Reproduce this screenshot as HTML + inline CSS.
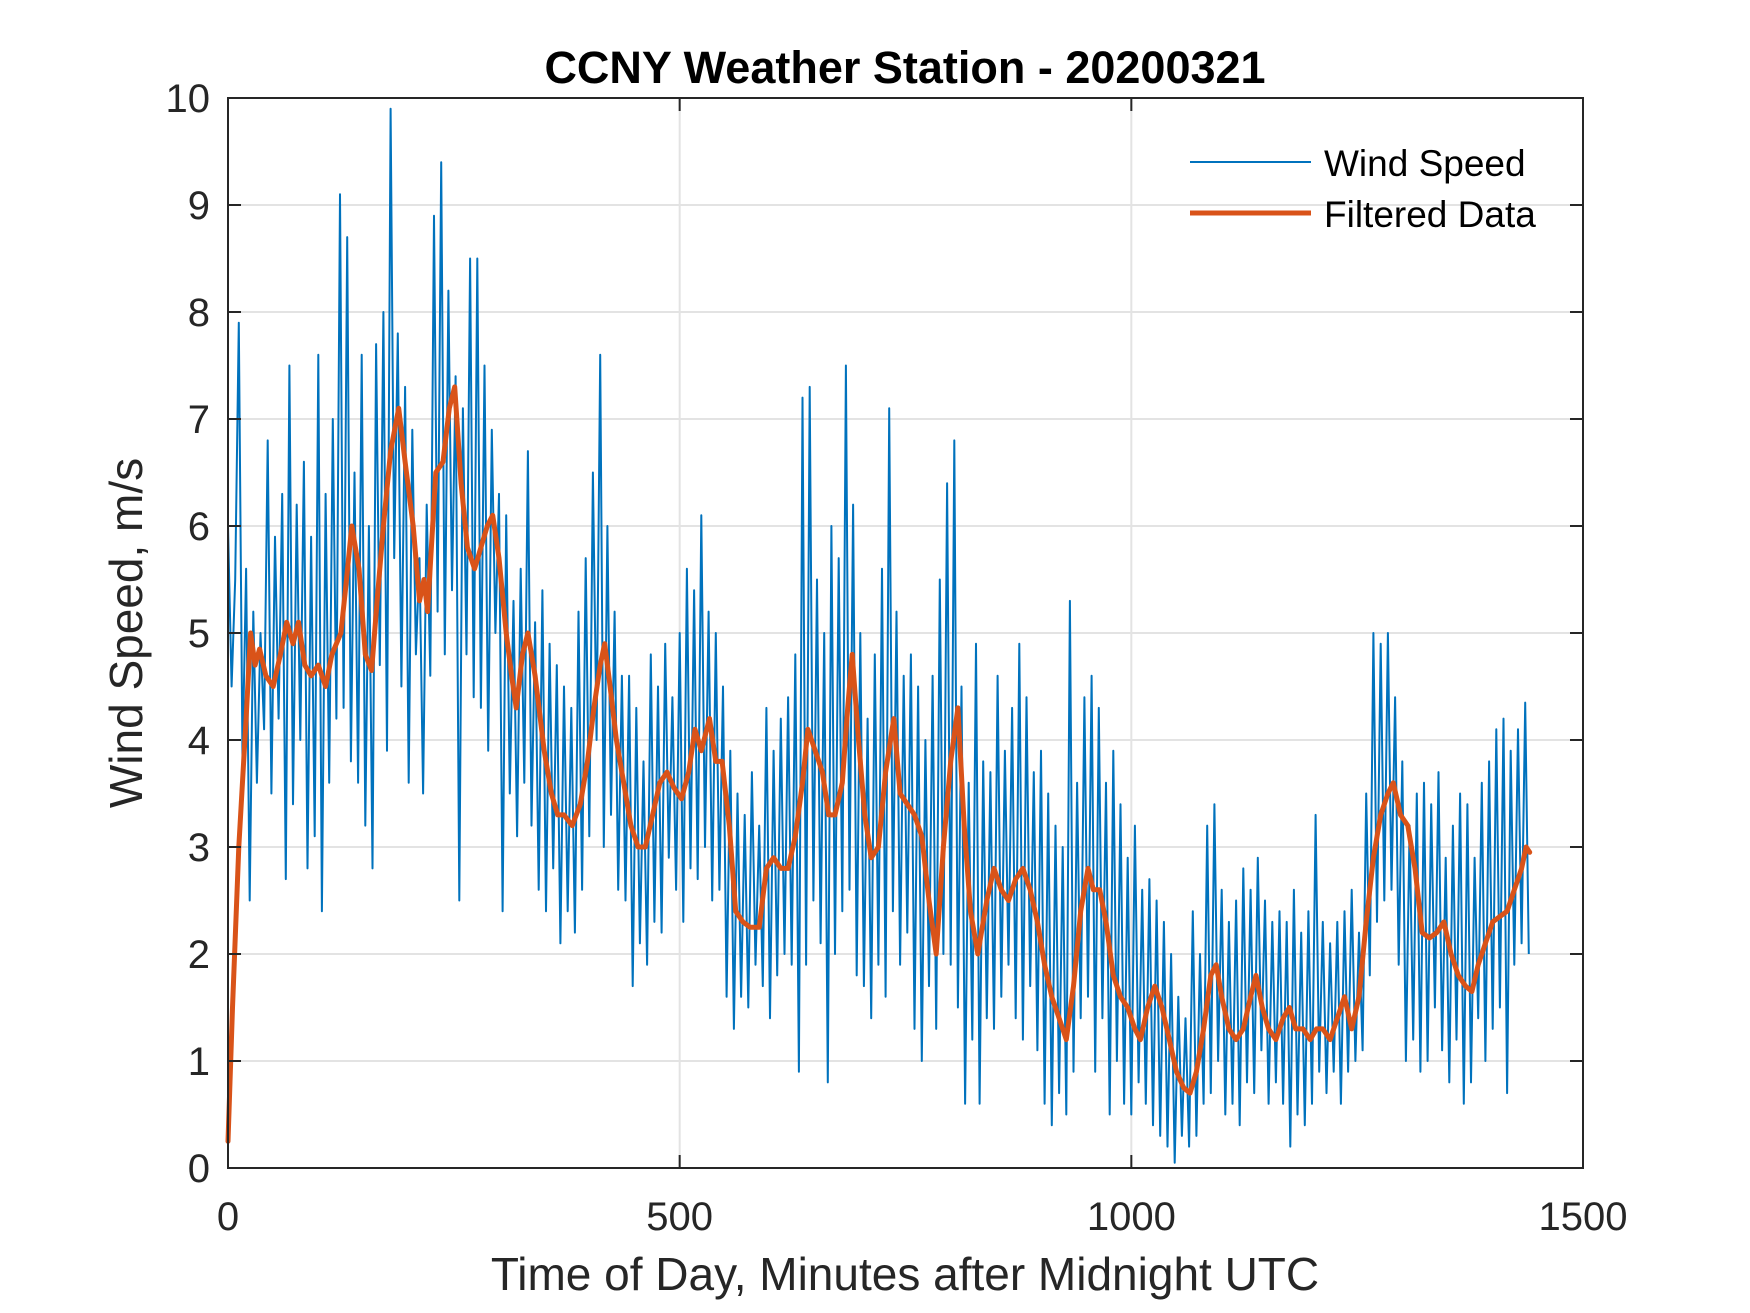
<!DOCTYPE html>
<html><head><meta charset="utf-8"><style>
html,body{margin:0;padding:0;background:#fff;}
svg{display:block;font-family:"Liberation Sans",Arial,sans-serif;}
</style></head><body>
<svg id="chart" width="1750" height="1313" viewBox="0 0 1750 1313" xmlns="http://www.w3.org/2000/svg">
<rect width="1750" height="1313" fill="#fff"/>
<g id="grid"></g><g id="series"></g><g id="axes"></g>
<text x="905" y="83" text-anchor="middle" font-size="45" font-weight="bold" fill="#000">CCNY Weather Station - 20200321</text>
<text x="905" y="1290" text-anchor="middle" font-size="46" fill="#262626">Time of Day, Minutes after Midnight UTC</text>
<text transform="translate(142,633) rotate(-90)" text-anchor="middle" font-size="46" fill="#262626">Wind Speed, m/s</text>
<g>
<line x1="1190" y1="162" x2="1311" y2="162" stroke="#0072BD" stroke-width="2"/>
<text x="1324" y="176" font-size="37" fill="#000">Wind Speed</text>
<line x1="1190" y1="213" x2="1311" y2="213" stroke="#D95319" stroke-width="5"/>
<text x="1324" y="227" font-size="37" fill="#000">Filtered Data</text>
</g>
</svg>
<script>
const xTicks=[0,500,1000,1500];
const yTicks=[0,1,2,3,4,5,6,7,8,9,10];
const rawStep=4;
const rawValues=[
6.0,4.5,5.5,7.9,3.8,5.6,2.5,5.2,3.6,5.0,
4.1,6.8,3.5,5.9,4.2,6.3,2.7,7.5,3.4,6.2,
4.0,6.6,2.8,5.9,3.1,7.6,2.4,6.3,3.6,7.0,
4.2,9.1,4.3,8.7,3.8,6.5,3.6,7.6,3.2,6.0,
2.8,7.7,4.7,8.0,3.9,9.9,5.7,7.8,4.5,7.3,
3.6,6.9,4.8,5.7,3.5,6.2,4.6,8.9,5.2,9.4,
4.8,8.2,5.4,7.4,2.5,7.1,4.8,8.5,4.4,8.5,
4.3,7.5,3.9,6.9,5.0,6.3,2.4,6.1,3.5,5.3,
3.1,5.6,3.6,6.7,3.2,5.1,2.6,5.4,2.4,4.9,
2.8,4.7,2.1,4.5,2.4,4.3,2.2,5.2,2.6,5.7,
3.1,6.5,4.0,7.6,3.0,6.0,3.3,5.2,2.6,4.6,
2.5,4.6,1.7,4.3,2.1,3.8,1.9,4.8,2.3,4.5,
2.2,4.9,2.9,4.4,2.6,5.0,2.3,5.6,2.8,5.4,
2.7,6.1,3.0,5.2,2.5,5.0,2.6,4.5,1.6,3.9,
1.3,3.5,1.6,3.3,1.5,3.7,1.9,3.2,1.7,4.3,
1.4,3.9,1.8,4.2,2.0,4.4,1.9,4.8,0.9,7.2,
1.9,7.3,2.5,5.5,2.1,5.0,0.8,6.0,2.0,5.7,
2.4,7.5,2.6,6.2,1.8,5.0,1.7,4.2,1.4,4.8,
1.9,5.6,1.6,7.1,2.4,5.2,1.9,4.6,2.2,4.8,
1.3,4.5,1.0,4.0,1.7,4.6,1.3,5.5,2.0,6.4,
1.9,6.8,1.5,4.5,0.6,3.6,1.2,4.9,0.6,3.8,
1.4,3.7,1.3,4.6,1.6,3.9,1.9,4.3,1.4,4.9,
1.2,4.4,1.7,3.7,1.1,3.9,0.6,3.5,0.4,3.2,
0.7,3.0,0.5,5.3,0.9,3.6,1.4,4.4,1.6,4.6,
0.9,4.3,1.4,3.6,0.5,3.9,1.0,3.4,0.6,2.9,
0.5,3.2,0.8,2.6,0.6,2.7,0.4,2.5,0.3,2.3,
0.2,2.0,0.05,1.6,0.3,1.4,0.2,2.4,0.3,2.0,
0.6,3.2,0.7,3.4,1.0,2.6,0.5,2.3,0.6,2.5,
0.4,2.8,0.8,2.6,0.7,2.9,1.1,2.5,0.6,2.3,
0.8,2.4,0.6,2.3,0.2,2.6,0.5,2.2,0.4,2.4,
0.6,3.3,0.9,2.3,0.7,2.1,0.9,2.3,0.6,2.4,
0.9,2.6,1.0,2.2,1.1,3.5,1.8,5.0,2.3,4.9,
2.5,5.0,2.6,4.4,1.9,3.8,1.0,3.2,1.2,3.5,
0.9,3.6,1.0,3.4,1.5,3.7,1.1,2.9,0.8,3.2,
1.2,3.5,0.6,3.4,0.8,2.9,1.4,3.6,1.0,3.8,
1.3,4.1,1.5,4.2,0.7,3.9,1.9,4.1,2.1,4.35,
2.0];
const filtMinutes=[0,5,12,20,25,30,35,42,50,58,65,72,78,85,92,100,108,115,125,130,137,145,152,159,165,172,180,189,196,205,212,217,221,230,238,245,251,258,265,273,280,287,293,300,308,314,319,326,332,340,350,358,365,372,381,390,398,405,412,417,423,430,438,446,454,462,470,478,486,494,502,510,517,524,533,540,547,555,562,570,578,588,596,604,612,620,628,636,642,650,658,665,672,680,686,691,698,705,712,720,728,737,744,752,760,768,776,784,792,800,808,815,822,830,840,848,856,864,872,880,888,896,904,912,920,928,936,944,952,958,965,972,980,988,996,1004,1010,1018,1026,1034,1042,1050,1058,1065,1072,1080,1088,1094,1100,1108,1116,1124,1132,1138,1145,1152,1160,1168,1175,1182,1190,1198,1205,1212,1220,1228,1236,1244,1252,1260,1268,1276,1284,1290,1298,1306,1314,1322,1330,1338,1346,1354,1362,1370,1377,1384,1392,1400,1408,1416,1424,1432,1437,1441];
const filtValues=[0.25,1.5,3.0,4.2,5.0,4.7,4.85,4.6,4.5,4.8,5.1,4.9,5.1,4.7,4.6,4.7,4.5,4.8,5.0,5.4,6.0,5.6,4.8,4.65,5.3,6.0,6.7,7.1,6.6,6.0,5.3,5.5,5.2,6.5,6.6,7.1,7.3,6.4,5.8,5.6,5.8,6.0,6.1,5.7,5.0,4.6,4.3,4.8,5.0,4.6,3.9,3.5,3.3,3.3,3.2,3.4,3.8,4.3,4.7,4.9,4.5,4.0,3.6,3.2,3.0,3.0,3.3,3.6,3.7,3.55,3.45,3.7,4.1,3.9,4.2,3.8,3.8,3.2,2.4,2.3,2.25,2.25,2.8,2.9,2.8,2.8,3.1,3.6,4.1,3.9,3.7,3.3,3.3,3.6,4.3,4.8,4.0,3.3,2.9,3.0,3.7,4.2,3.5,3.4,3.3,3.1,2.5,2.0,3.0,3.8,4.3,3.2,2.4,2.0,2.5,2.8,2.6,2.5,2.7,2.8,2.6,2.3,1.9,1.6,1.4,1.2,1.7,2.4,2.8,2.6,2.6,2.3,1.8,1.6,1.5,1.3,1.2,1.5,1.7,1.5,1.2,0.9,0.75,0.7,0.9,1.3,1.8,1.9,1.6,1.3,1.2,1.3,1.6,1.8,1.5,1.3,1.2,1.4,1.5,1.3,1.3,1.2,1.3,1.3,1.2,1.4,1.6,1.3,1.6,2.3,2.9,3.3,3.5,3.6,3.3,3.2,2.8,2.2,2.15,2.2,2.3,2.0,1.8,1.7,1.65,1.9,2.1,2.3,2.35,2.4,2.6,2.8,3.0,2.95];

const L=228,R=1583,T=98,B=1168;
const xMin=0,xMax=1500,yMin=0,yMax=10;
function xs(v){return L+(v-xMin)/(xMax-xMin)*(R-L);}
function ys(v){return B-(v-yMin)/(yMax-yMin)*(B-T);}
const NS='http://www.w3.org/2000/svg';
function mk(tag,parent,attrs){const e=document.createElementNS(NS,tag);for(const k in attrs)e.setAttribute(k,attrs[k]);parent.appendChild(e);return e;}
const grid=document.getElementById('grid'),axes=document.getElementById('axes'),series=document.getElementById('series');
xTicks.forEach(t=>{
  const g=mk('line',grid,{x1:xs(t),x2:xs(t),y1:T,y2:B,stroke:'#e3e3e3','stroke-width':2});
  
  
  const a=mk('line',axes,{x1:xs(t),x2:xs(t),y1:B,y2:B-13,stroke:'#262626','stroke-width':2});
  
  
  const b=mk('line',axes,{x1:xs(t),x2:xs(t),y1:T,y2:T+13,stroke:'#262626','stroke-width':2});
  
  
  const l=mk('text',axes,{x:xs(t),y:1230,'text-anchor':'middle','font-size':40,fill:'#262626'});
  l.textContent=t;
  
  
});
yTicks.forEach(t=>{
  const g=mk('line',grid,{x1:L,x2:R,y1:ys(t),y2:ys(t),stroke:'#e3e3e3','stroke-width':2});
  
  
  const a=mk('line',axes,{x1:L,x2:L+13,y1:ys(t),y2:ys(t),stroke:'#262626','stroke-width':2});
  
  
  const b=mk('line',axes,{x1:R,x2:R-13,y1:ys(t),y2:ys(t),stroke:'#262626','stroke-width':2});
  
  
  const l=mk('text',axes,{x:210,y:ys(t)+14,'text-anchor':'end','font-size':40,fill:'#262626'});
  l.textContent=t;
  
  
});
const box=mk('rect',axes,{x:L,y:T,width:R-L,height:B-T,fill:'none',stroke:'#262626','stroke-width':2});


const rawPts=rawValues.map((v,i)=>xs(i*rawStep).toFixed(1)+','+ys(v).toFixed(1)).join(' ');
const raw=mk('polyline',series,{points:rawPts,fill:'none',stroke:'#0072BD','stroke-width':2,'stroke-linejoin':'round'});


const fPts=filtValues.map((v,i)=>xs(filtMinutes[i]).toFixed(1)+','+ys(v).toFixed(1)).join(' ');
const filt=mk('polyline',series,{points:fPts,fill:'none',stroke:'#D95319','stroke-width':5,'stroke-linejoin':'round','stroke-linecap':'round'});


</script>
</body></html>
